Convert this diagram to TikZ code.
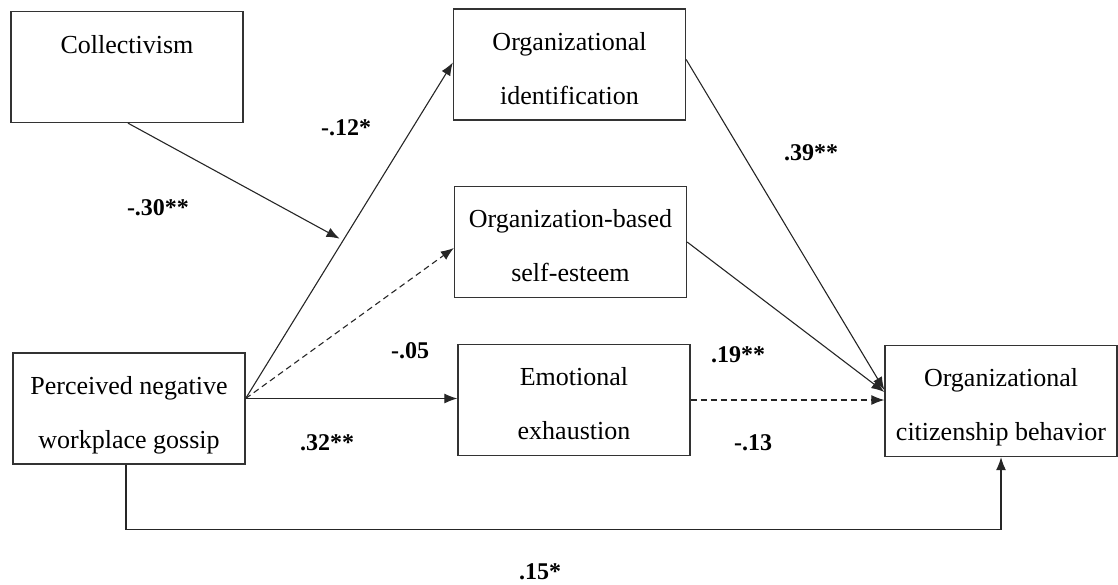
\documentclass[tikz,border=0pt]{standalone}
\usepackage{fontspec}
\setmainfont{Liberation Serif}
\usetikzlibrary{arrows.meta,calc}
\newcommand{\twol}[2]{\rule{0pt}{32pt}#1\\#2\rule[-7pt]{0pt}{7pt}}
\begin{document}
\begin{tikzpicture}[x=1pt,y=-1pt,
  box/.style={draw=black!80, line width=1.3pt, minimum width=232pt, minimum height=111pt,
    align=center, inner sep=0pt, font=\fontsize{26}{54}\selectfont},
  lab/.style={font=\bfseries\fontsize{24}{28}\selectfont, inner sep=0pt},
  conn/.style={draw=black!85, line width=1.1pt, -{Latex[length=13pt,width=10pt]}},
  dconn/.style={conn, dash pattern=on 6pt off 4pt}]
\useasboundingbox (0,0) rectangle (1118,584);

\node[box, text height=18pt, text depth=46pt] (coll) at (127,67) {Collectivism};
\node[box] (oi)   at (569.5,64.5) {\twol{Organizational}{identification}};
\node[box] (obse) at (570.5,242)  {\twol{Organization-based}{self-esteem}};
\node[box] (png)  at (129,408.5)  {\twol{Perceived negative}{workplace gossip}};
\node[box] (ee)   at (574,400)    {\twol{Emotional}{exhaustion}};
\node[box] (ocb)  at (1001,401)   {\twol{Organizational}{citizenship behavior}};

\coordinate (pngout) at ([yshift=10pt]png.east);
\coordinate (mod) at ($(pngout)!0.47!([yshift=2pt]oi.west)$);

\draw[conn] (pngout) -- ([yshift=2pt]oi.west);
\draw[dconn] (pngout) -- ([yshift=-6pt]obse.west);
\draw[conn] (pngout) -- (pngout -| ee.west);
\draw[conn, shorten >=4pt] ([xshift=1pt]coll.south) -- (mod);
\draw[conn] ([yshift=5pt]oi.east) -- ([yshift=11pt]ocb.west);
\draw[conn] (obse.east) -- ([yshift=9pt]ocb.west);
\draw[dconn] (ee.east) -- (ee.east -| ocb.west);
\draw[conn] ([xshift=-3pt]png.south) -- ++(0,65) -| (ocb.south);

\node[lab] (l1) at (346,128) {-.12*};
\node[lab] (l2) at (158,208) {-.30**};
\node[lab] (l3) at (811,153) {.39**};
\node[lab] (l4) at (410,351) {-.05};
\node[lab] (l5) at (327,443) {.32**};
\node[lab] (l6) at (738,355) {.19**};
\node[lab] (l7) at (753,443) {-.13};
\node[lab] (l8) at (540,572) {.15*};
\end{tikzpicture}
\end{document}
